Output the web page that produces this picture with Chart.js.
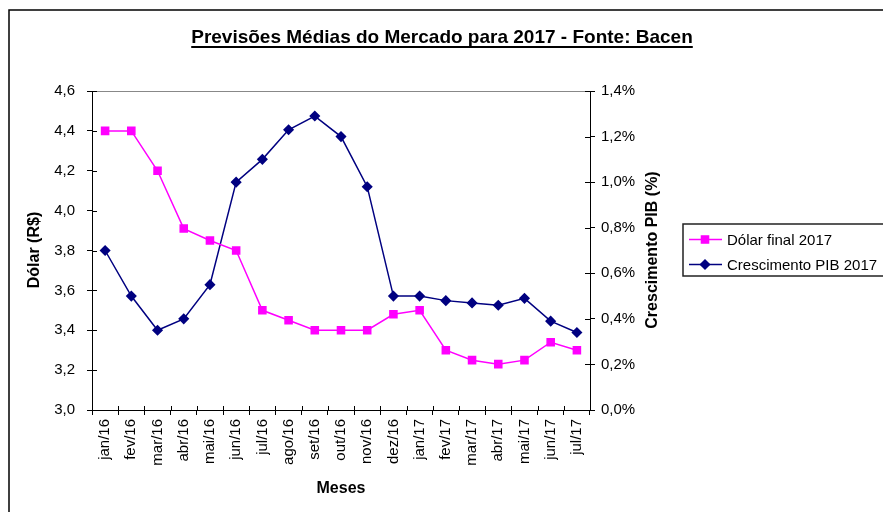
<!DOCTYPE html>
<html>
<head>
<meta charset="utf-8">
<script src="https://cdn.jsdelivr.net/npm/chart.js@4.4.1/dist/chart.umd.min.js"></script>
<style>
	html, body { margin: 0; padding: 0; background: #fff; }
	#wrap { width: 883px; height: 512px; position: relative; }
</style>
</head>
<body>
<div id="wrap"><canvas id="myChart" width="883" height="512"></canvas></div>
<script>
const meses = ['jan/16', 'fev/16', 'mar/16', 'abr/16', 'mai/16', 'jun/16', 'jul/16', 'ago/16', 'set/16', 'out/16',
	'nov/16', 'dez/16', 'jan/17', 'fev/17', 'mar/17', 'abr/17', 'mai/17', 'jun/17', 'jul/17'];
// dólar final 2017 (R$)
const dolarFinal = [4.40, 4.40, 4.20, 3.91, 3.85, 3.80, 3.50, 3.45, 3.40, 3.40, 3.40, 3.48, 3.50, 3.30, 3.25, 3.23, 3.25, 3.34, 3.30];
// crescimento PIB 2017 (%)
const pibCrescimento = [0.70, 0.50, 0.35, 0.40, 0.55, 1.00, 1.10, 1.23, 1.29, 1.20, 0.98, 0.50, 0.50, 0.48, 0.47, 0.46, 0.49, 0.39, 0.34];

const dolarEixo = { min: 3.0, max: 4.6, step: 0.2 };
const pibEixo = { min: 0, max: 1.4, step: 0.2 };

const titulo = 'Previsões Médias do Mercado para 2017 - Fonte: Bacen';
const tituloX = 'Meses';
const tituloY = 'Dólar (R$)';
const tituloY1 = 'Crescimento PIB (%)';

const FONT = '"Liberation Sans", Arial, sans-serif';
Chart.defaults.font.family = FONT;
Chart.defaults.font.size = 15;
Chart.defaults.color = '#000';

const extras = {
	id: 'extras',
	afterDraw(chart) {
		const ctx = chart.ctx;
		const area = chart.chartArea;
		ctx.save();

		// moldura
		ctx.strokeStyle = '#000';
		ctx.lineWidth = 1.5;
		ctx.strokeRect(9, 10, 1000, 1000);

		// titulo sublinhado
		ctx.font = 'bold 19px ' + FONT;
		ctx.fillStyle = '#000';
		ctx.textAlign = 'center';
		ctx.textBaseline = 'alphabetic';
		ctx.fillText(titulo, 442, 43);
		let w = ctx.measureText(titulo).width;
		ctx.fillRect(442 - w / 2, 46, w, 2);

		// linha de cima da area
		ctx.strokeStyle = '#888';
		ctx.lineWidth = 1;
		ctx.beginPath();
		ctx.moveTo(area.left, area.top + 0.5);
		ctx.lineTo(area.right, area.top + 0.5);
		ctx.stroke();

		// ticks para dentro
		ctx.strokeStyle = '#000';
		ctx.beginPath();
		chart.scales.y.ticks.forEach((t, i) => {
			let yy = Math.round(chart.scales.y.getPixelForTick(i)) + 0.5;
			ctx.moveTo(area.left, yy);
			ctx.lineTo(area.left + 5, yy);
		});
		chart.scales.y1.ticks.forEach((t, i) => {
			let yy = Math.round(chart.scales.y1.getPixelForTick(i)) + 0.5;
			ctx.moveTo(area.right - 5, yy);
			ctx.lineTo(area.right, yy);
		});
		let xs = chart.scales.x;
		for (let i = 0; i <= meses.length; i++) {
			let xx;
			if (i == 0) xx = area.left;
			else if (i == meses.length) xx = area.right;
			else xx = (xs.getPixelForValue(i) + xs.getPixelForValue(i - 1)) / 2;
			xx = Math.round(xx) + 0.5;
			ctx.moveTo(xx, area.bottom - 4);
			ctx.lineTo(xx, area.bottom);
		}
		ctx.stroke();

		// titulos dos eixos
		ctx.font = 'bold 16px ' + FONT;
		ctx.textAlign = 'center';
		ctx.textBaseline = 'alphabetic';
		ctx.fillText(tituloX, 341, 493);
		ctx.textBaseline = 'middle';
		ctx.save();
		ctx.translate(35, 250);
		ctx.rotate(-Math.PI / 2);
		ctx.fillText(tituloY, 0, 0);
		ctx.restore();
		ctx.save();
		ctx.translate(653, 250);
		ctx.rotate(-Math.PI / 2);
		ctx.fillText(tituloY1, 0, 0);
		ctx.restore();

		// legenda
		ctx.strokeStyle = '#222';
		ctx.lineWidth = 1.5;
		ctx.strokeRect(683, 224, 240, 52);
		ctx.font = '15px ' + FONT;
		ctx.textAlign = 'left';
		ctx.textBaseline = 'middle';
		let rows = [239.5, 264.5];
		chart.data.datasets.forEach((ds, i) => {
			let yy = rows[i];
			ctx.strokeStyle = ds.borderColor;
			ctx.lineWidth = 1.5;
			ctx.beginPath();
			ctx.moveTo(689, yy);
			ctx.lineTo(722, yy);
			ctx.stroke();
			Chart.helpers.drawPoint(ctx, {
				pointStyle: ds.pointStyle, radius: ds.pointRadius, borderWidth: 1,
				rotation: 0
			}, 705, yy);
			ctx.fillStyle = ds.pointBackgroundColor;
			ctx.fill();
			ctx.fillStyle = '#000';
			ctx.fillText(ds.label, 727, yy + 1);
		});

		ctx.restore();
	}
};

const ctx = document.getElementById('myChart').getContext('2d');
const myChart = new Chart(ctx, {
	type: 'line',
	data: {
		labels: meses,
		datasets: [{
			label: 'Dólar final 2017',
			data: dolarFinal,
			yAxisID: 'y',
			borderColor: '#ff00ff',
			backgroundColor: '#ff00ff',
			pointBackgroundColor: '#ff00ff',
			pointBorderColor: '#ff00ff',
			pointStyle: 'rect',
			pointRadius: 5,
			borderWidth: 1.5,
			tension: 0,
		}, {
			label: 'Crescimento PIB 2017',
			data: pibCrescimento,
			yAxisID: 'y1',
			borderColor: '#000080',
			backgroundColor: '#000080',
			pointBackgroundColor: '#000080',
			pointBorderColor: '#000080',
			pointStyle: 'rectRot',
			pointRadius: 4.5,
			borderWidth: 1.5,
			tension: 0,
		}]
	},
	options: {
		responsive: false,
		animation: false,
		events: [],
		layout: { padding: { top: 91, left: 0, right: 0, bottom: 0 } },
		plugins: {
			legend: { display: false },
			title: { display: false },
			tooltip: { enabled: false },
		},
		scales: {
			x: {
				offset: true,
				grid: { offset: true, drawOnChartArea: false, tickLength: 5, color: '#000' },
				border: { color: '#000', width: 1 },
				ticks: { autoSkip: false, maxRotation: 90, minRotation: 90, padding: 4, color: '#000' },
				afterFit(scale) { scale.height = 102 },
			},
			y: {
				position: 'left',
				min: dolarEixo.min,
				max: dolarEixo.max,
				grid: { drawOnChartArea: false, tickLength: 5, color: '#000' },
				border: { color: '#000', width: 1 },
				ticks: {
					stepSize: dolarEixo.step, padding: 12, color: '#000',
					callback: v => v.toFixed(1).replace('.', ',')
				},
				afterFit(scale) { scale.width = 92 },
			},
			y1: {
				position: 'right',
				min: pibEixo.min,
				max: pibEixo.max,
				grid: { drawOnChartArea: false, tickLength: 5, color: '#000' },
				border: { color: '#000', width: 1 },
				ticks: {
					stepSize: pibEixo.step, padding: 6, color: '#000',
					callback: v => v.toFixed(1).replace('.', ',') + '%'
				},
				afterFit(scale) { scale.width = 293 },
			}
		}
	},
	plugins: [extras]
});
</script>
</body>
</html>
